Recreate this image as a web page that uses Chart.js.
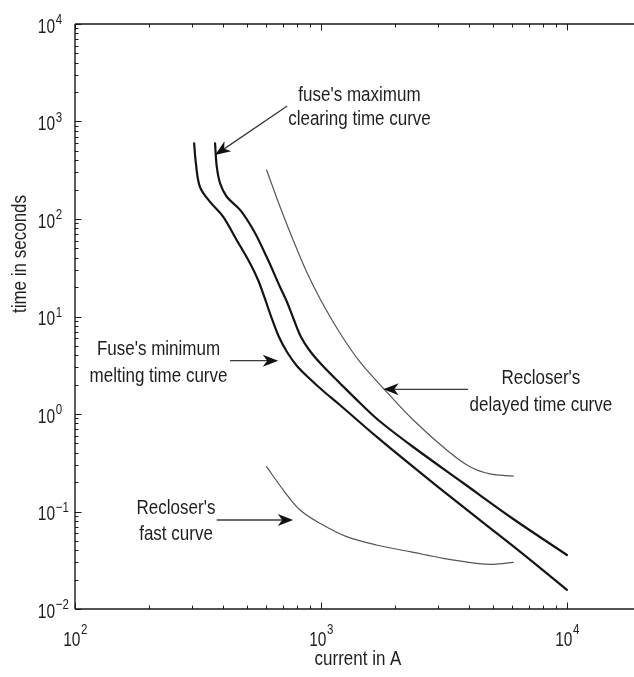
<!DOCTYPE html>
<html>
<head>
<meta charset="utf-8">
<script src="https://cdn.jsdelivr.net/npm/chart.js@4/dist/chart.umd.min.js"></script>
<style>
html,body{margin:0;padding:0;overflow:hidden;background:#fff;width:634px;height:677px}
canvas{display:block}
</style>
</head>
<body>
<canvas id="c" width="641" height="677"></canvas>
<script>
// ---- data (current in A, time in s) ----
const minMeltCurrent = [305, 310, 322, 354, 400, 454, 514, 555, 592.3, 632.1, 675.1, 727.6, 798.7, 902.2, 1038, 1194, 1682, 2366, 3776, 6026, 8770, 10000];
const minMeltTime    = [597, 375, 214, 150, 106, 61, 35.4, 23.7, 15.12, 9.43, 6.16, 4.32, 3.11, 2.286, 1.662, 1.237, 0.585, 0.288, 0.112, 0.0443, 0.0206, 0.0157];

const maxClearCurrent = [371, 377, 389, 414, 469, 531, 601, 681, 727.6, 776.7, 829.3, 902.2, 1009.4, 1194, 1469, 1738, 2372, 3785, 6051, 10000];
const maxClearTime    = [597, 344, 232, 169, 124, 77, 41, 20.2, 14.08, 9.21, 6.16, 4.43, 3.18, 2.07, 1.237, 0.838, 0.4587, 0.196, 0.0838, 0.0358];

const delayedCurrent = [601, 681, 772, 875, 990, 1194, 1440, 1791, 2372, 3243, 4033, 4865, 6051];
const delayedTime    = [318, 134.3, 60.2, 28.6, 15.3, 6.77, 3.42, 1.84, 0.867, 0.428, 0.288, 0.243, 0.231];

const fastCurrent = [601, 703, 822, 990, 1271, 1682, 2301, 3142, 4295, 5015, 6051];
const fastTime    = [0.288, 0.166, 0.1036, 0.0757, 0.0552, 0.0453, 0.0387, 0.0331, 0.0294, 0.0287, 0.0301];

const currentTicks = [100, 1000, 10000];
const currentTickExp = ['2', '3', '4'];
const timeTicks = [0.01, 0.1, 1, 10, 100, 1000, 10000];
const timeTickExp = ['\u22122', '\u22121', '0', '1', '2', '3', '4'];

const xTitle = 'current in A';
const yTitle = 'time in seconds';

// annotations (anchor in data coordinates: centre x, first baseline y)
const notes = [
  {lines: ["fuse's maximum", 'clearing time curve'], x: 1434, y: 1634, gap: 24.5},
  {lines: ["Recloser's", 'delayed time curve'], x: 7834, y: 2.03, gap: 26.5},
  {lines: ["Fuse's minimum", 'melting time curve'], x: 218.5, y: 4.03, gap: 26.7},
  {lines: ["Recloser's", 'fast curve'], x: 257.4, y: 0.0932, gap: 25.5}
];
const arrows = [
  {from: [729, 1442], to: [371, 453]},
  {from: [427, 3.52], to: [670, 3.52]},
  {from: [3963, 1.79], to: [1791, 1.79]},
  {from: [377, 0.0818], to: [771, 0.0818]}
];

const pts = (xs, ys) => xs.map((v, i) => ({x: v, y: ys[i]}));

const FONT = '"Liberation Sans", Arial, Helvetica, sans-serif';
const TXT = '#1e1e1e';

function stretchText(ctx, text, x, y, align, size, k) {
  ctx.save();
  ctx.font = size + 'px ' + FONT;
  ctx.textAlign = align;
  ctx.textBaseline = 'alphabetic';
  ctx.translate(x, y);
  ctx.scale(1, k);
  ctx.fillText(text, 0, 0);
  ctx.restore();
}
function textW(ctx, text, size) {
  ctx.save();
  ctx.font = size + 'px ' + FONT;
  const w = ctx.measureText(text).width;
  ctx.restore();
  return w;
}

const axesPlugin = {
  id: 'matlabAxes',
  afterDraw(chart) {
    const ctx = chart.ctx;
    const a = chart.chartArea;
    const xs = chart.scales.x, ys = chart.scales.y;
    ctx.save();
    ctx.fillStyle = TXT;
    ctx.strokeStyle = '#1a1a1a';

    // box
    ctx.lineWidth = 1.4;
    ctx.beginPath();
    ctx.moveTo(a.left, a.bottom); ctx.lineTo(a.right, a.bottom);
    ctx.moveTo(a.left, a.top); ctx.lineTo(a.right, a.top);
    ctx.moveTo(a.left, a.top); ctx.lineTo(a.left, a.bottom);
    ctx.moveTo(a.right, a.top); ctx.lineTo(a.right, a.bottom);
    ctx.stroke();

    // ticks (inward)
    ctx.lineWidth = 1;
    const MAJ = 6.5, MIN = 3.5;
    ctx.beginPath();
    const xmin = Math.log10(xs.min), xmax = Math.log10(xs.max);
    for (let d = Math.floor(xmin); d <= Math.ceil(xmax); d++) {
      for (let m = 1; m <= 9; m++) {
        const v = m * Math.pow(10, d);
        if (v < xs.min * 0.999 || v > xs.max * 1.001) continue;
        const px = Math.round(xs.getPixelForValue(v)) + 0.5;
        const L = m === 1 ? MAJ : MIN;
        ctx.moveTo(px, a.bottom); ctx.lineTo(px, a.bottom - L);
        ctx.moveTo(px, a.top); ctx.lineTo(px, a.top + L);
      }
    }
    const ymin = Math.log10(ys.min), ymax = Math.log10(ys.max);
    for (let d = Math.floor(ymin); d <= Math.ceil(ymax); d++) {
      for (let m = 1; m <= 9; m++) {
        const v = m * Math.pow(10, d);
        if (v < ys.min * 0.999 || v > ys.max * 1.001) continue;
        const py = Math.round(ys.getPixelForValue(v)) + 0.5;
        const L = m === 1 ? MAJ : MIN;
        ctx.moveTo(a.left, py); ctx.lineTo(a.left + L, py);
        ctx.moveTo(a.right, py); ctx.lineTo(a.right - L, py);
      }
    }
    ctx.stroke();

    // tick labels
    const MS = 15.5, SS = 11.5, K = 1.28;
    currentTicks.forEach((v, i) => {
      const px = xs.getPixelForValue(v);
      const w1 = textW(ctx, '10', MS), w2 = textW(ctx, currentTickExp[i], SS);
      const x0 = px - (w1 + w2) / 2;
      const base = a.bottom + 36.5;
      stretchText(ctx, '10', x0, base, 'left', MS, K);
      stretchText(ctx, currentTickExp[i], x0 + w1 + 0.5, base - 12, 'left', SS, K);
    });
    timeTicks.forEach((v, i) => {
      const py = ys.getPixelForValue(v);
      const xr = a.left - 20;
      const base = py + 8.5;
      stretchText(ctx, '10', xr, base, 'right', MS, K);
      stretchText(ctx, timeTickExp[i], xr + 0.8, base - 8.5, 'left', SS, K);
    });

    // axis titles
    const TS = 17, TK = 1.24;
    stretchText(ctx, xTitle, (a.left + a.right) / 2, 665, 'center', TS, TK);
    ctx.save();
    ctx.translate(26, 254);
    ctx.rotate(-Math.PI / 2);
    stretchText(ctx, yTitle, 0, 0, 'center', TS, TK);
    ctx.restore();

    // annotations
    notes.forEach(n => {
      const cx = xs.getPixelForValue(n.x);
      const by = ys.getPixelForValue(n.y);
      n.lines.forEach((t, j) => stretchText(ctx, t, cx, by + j * n.gap, 'center', TS, TK));
    });
    arrows.forEach(ar => {
      const x1 = xs.getPixelForValue(ar.from[0]), y1 = ys.getPixelForValue(ar.from[1]);
      const x2 = xs.getPixelForValue(ar.to[0]), y2 = ys.getPixelForValue(ar.to[1]);
      const dx = x2 - x1, dy = y2 - y1, len = Math.hypot(dx, dy);
      const ux = dx / len, uy = dy / len, nx = -uy, ny = ux;
      const L = 15.5, W = 6, N = 4.5;
      const bx = x2 - ux * L, by = y2 - uy * L;
      const mx = x2 - ux * (L - N), my = y2 - uy * (L - N);
      ctx.strokeStyle = '#3a3a3a';
      ctx.lineWidth = 1.3;
      ctx.beginPath(); ctx.moveTo(x1, y1); ctx.lineTo(mx, my); ctx.stroke();
      ctx.fillStyle = '#111';
      ctx.beginPath();
      ctx.moveTo(x2, y2);
      ctx.lineTo(bx + nx * W, by + ny * W);
      ctx.lineTo(mx, my);
      ctx.lineTo(bx - nx * W, by - ny * W);
      ctx.closePath();
      ctx.fill();
    });
    ctx.restore();
  }
};

const lineDs = (xs, ys, color, width) => ({
  data: pts(xs, ys), showLine: true, borderColor: color, borderWidth: width,
  pointRadius: 0, tension: 0.35, fill: false, borderJoinStyle: 'round', borderCapStyle: 'round'
});

new Chart(document.getElementById('c'), {
  type: 'scatter',
  data: {
    datasets: [
      lineDs(minMeltCurrent, minMeltTime, '#141414', 2.2),
      lineDs(maxClearCurrent, maxClearTime, '#141414', 2.2),
      lineDs(delayedCurrent, delayedTime, '#555555', 1.2),
      lineDs(fastCurrent, fastTime, '#555555', 1.2)
    ]
  },
  options: {
    responsive: false,
    animation: false,
    events: [],
    layout: {padding: {left: 75, top: 24, right: 0, bottom: 68}},
    plugins: {legend: {display: false}, tooltip: {enabled: false}},
    scales: {
      x: {type: 'logarithmic', min: 100, max: 20000, display: false},
      y: {type: 'logarithmic', min: 0.01, max: 10000, display: false}
    }
  },
  plugins: [axesPlugin]
});
</script>
</body>
</html>
